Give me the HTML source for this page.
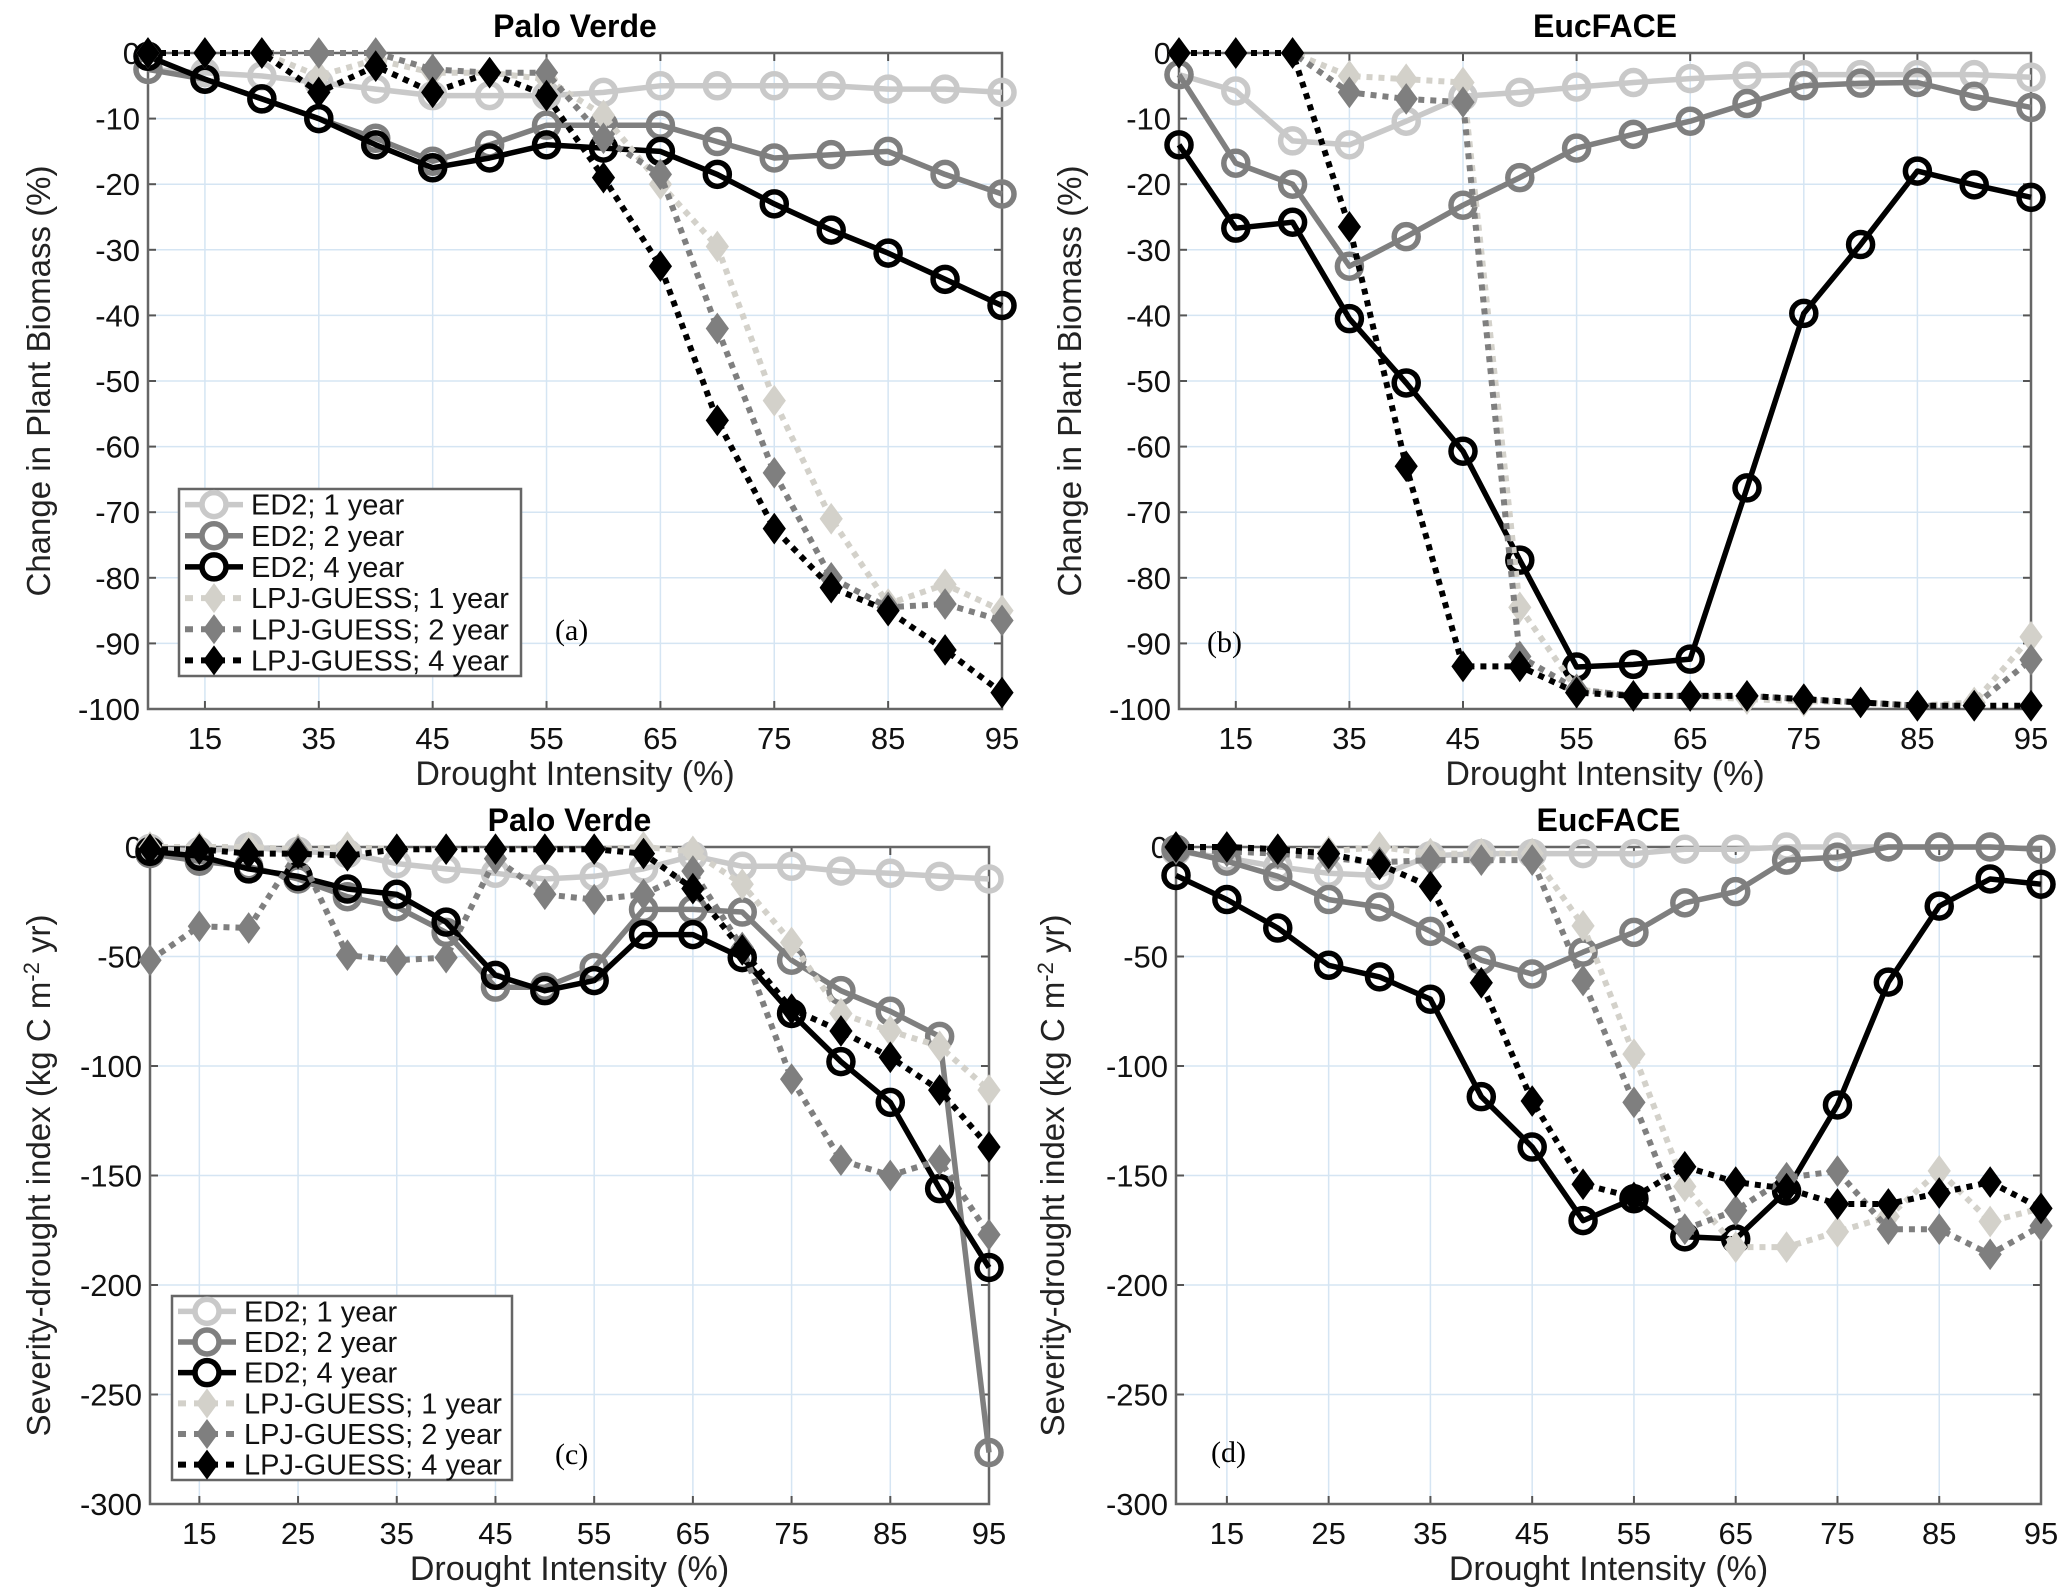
<!DOCTYPE html>
<html><head><meta charset="utf-8"><style>
html,body{margin:0;padding:0;background:#fff}
svg{display:block;font-family:"Liberation Sans",Arial,sans-serif}
</style></head><body>
<svg id="fig" width="2067" height="1592" viewBox="0 0 2067 1592" xmlns="http://www.w3.org/2000/svg"></svg>
<script>
// ---------- data ----------
const xTop = [10,15,20,35,40,45,50,55,60,65,70,75,80,85,90,95];
const xTopTicks = ["15","35","45","55","65","75","85","95"];
const xBot = [10,15,20,25,30,35,40,45,50,55,60,65,70,75,80,85,90,95];
const xBotTicks = ["15","25","35","45","55","65","75","85","95"];
const yTopTicks = [0,-10,-20,-30,-40,-50,-60,-70,-80,-90,-100];
const yBotTicks = [0,-50,-100,-150,-200,-250,-300];

const aED1 = [-2.5,-3,-3.5,-4.5,-5.5,-6.5,-6.5,-6.5,-6,-5,-5,-5,-5,-5.5,-5.5,-6];
const aED2 = [-2.5,-4,-7,-10,-13,-16.5,-14,-11,-11,-11,-13.5,-16,-15.5,-15,-18.5,-21.5];
const aED4 = [-0.5,-4,-7,-10,-14,-17.5,-16,-14,-14.5,-15,-18.5,-23,-27,-30.5,-34.5,-38.5];
const aLP1 = [0,0,0,-3.5,-1,-3,-3,-4,-9.5,-20,-29.5,-53,-71,-84,-81,-85];
const aLP2 = [0,0,0,0,0,-2.5,-3,-3,-13,-18.5,-42,-64,-80,-84.5,-84,-86.5];
const aLP4 = [0,0,0,-6,-2,-6,-3,-6.5,-19,-32.5,-56,-72.5,-81.5,-85,-91,-97.5];

const bED1 = [-3.3,-5.8,-13.4,-14,-10.4,-6.6,-6,-5.2,-4.5,-3.9,-3.5,-3.3,-3.3,-3.3,-3.3,-3.7];
const bED2 = [-3.3,-16.8,-20,-32.5,-28,-23.2,-19,-14.5,-12.4,-10.4,-7.7,-5,-4.6,-4.5,-6.6,-8.3];
const bED4 = [-14,-26.7,-25.8,-40.5,-50.3,-60.7,-77.3,-93.6,-93.2,-92.4,-66.3,-39.7,-29.2,-18,-20.1,-22];
const bLP1 = [0,0,0,-3.5,-4,-4.5,-84.5,-97,-98,-98,-98.5,-98.8,-99,-99.5,-99,-89];
const bLP2 = [0,0,0,-6,-7,-7.5,-92,-97,-98,-98,-98,-98.5,-99,-99.5,-99.5,-92.5];
const bLP4 = [0,0,0,-26.5,-63,-93.5,-93.5,-97.5,-98,-98,-98,-98.5,-99,-99.5,-99.5,-99.5];

const cED1 = [-0.7,-2,0,-2,-3,-7.6,-10,-12,-14.6,-13.4,-10,-4,-8.8,-8.8,-11,-12,-13.4,-14.6];
const cED2 = [-3,-6.5,-9,-14.6,-22.7,-27.4,-39,-64,-64,-55,-28.5,-28.5,-29.7,-51.7,-65.6,-75,-86.5,-276.5];
const cED4 = [-2,-4.2,-10,-13.4,-19.2,-21.6,-34.3,-58.6,-65.6,-61,-40,-40,-50.5,-76,-98,-116.6,-156,-192];
const cLP1 = [0,0,0,-1,0,-1,-1,-1,-1,-1,0,-2,-17,-43.6,-76,-84,-91,-111];
const cLP2 = [-51.7,-36.2,-37,-2,-49.4,-51.7,-50.5,-5.3,-21.6,-24,-21.6,-11,-45.9,-106,-143,-150,-143,-177];
const cLP4 = [-1,-1,-3,-3,-4,-1,-1,-1,-1,-1,-3,-19,-47,-74,-84,-96,-111,-137];

const dED1 = [-2,-5,-9,-12,-13,-4,-3,-3,-3,-3,-1,-1,0,0,0,0,0,-1];
const dED2 = [-1,-6.5,-13.4,-24,-27.4,-38.5,-51.7,-58,-48,-39,-25.5,-20.4,-6,-4.6,0,0,0,-1];
const dED4 = [-13,-24,-37,-54,-59.3,-69.5,-114,-137,-170.6,-160.6,-178,-179,-157,-117.8,-61.7,-27,-14.6,-17];
const dLP1 = [0,0,-1,-2,0,-3,-3,-3,-36,-94.6,-155,-182.7,-182.7,-175.7,-168.7,-147.9,-171,-165];
const dLP2 = [-1,-2,-3,-5,-7,-6,-6,-6,-61,-116.6,-174.5,-166,-151,-148,-174.5,-174.5,-186,-173];
const dLP4 = [0,0,-1,-3,-8,-18,-62,-116,-154,-160,-146,-153,-156,-163,-163,-158,-153,-165];

const seriesNames = ["ED2; 1 year","ED2; 2 year","ED2; 4 year","LPJ-GUESS; 1 year","LPJ-GUESS; 2 year","LPJ-GUESS; 4 year"];
const seriesColors = ["#c9c9c9","#7f7f7f","#000000","#d3d1ca","#7f7f7f","#000000"];

// ---------- drawing ----------
const NS="http://www.w3.org/2000/svg";
const svg=document.getElementById('fig');
function mk(tag,attrs,parent){const e=document.createElementNS(NS,tag);for(const k in attrs)e.setAttribute(k,attrs[k]);(parent||svg).appendChild(e);return e;}

function panel(cfg){
  const g=mk('g',{});
  
  
  const n=cfg.cats.length;
  const xs=i=>cfg.L+(cfg.R-cfg.L)*i/(n-1);
  const ys=v=>cfg.T+(cfg.B-cfg.T)*(v-cfg.ymax)/(cfg.ymin-cfg.ymax);
  cfg.yticks.forEach(v=>{
    const l=mk('line',{x1:cfg.L,x2:cfg.R,y1:ys(v),y2:ys(v),stroke:'#d5e5f3','stroke-width':1.5},g);
    
    mk('line',{x1:cfg.L,x2:cfg.L+8,y1:ys(v),y2:ys(v),stroke:'#555','stroke-width':2},g);
    mk('line',{x1:cfg.R,x2:cfg.R-8,y1:ys(v),y2:ys(v),stroke:'#555','stroke-width':2},g);
    const t=mk('text',{x:cfg.L-8,y:ys(v)+11,'text-anchor':'end','font-size':31,fill:'#111'},g);
    t.textContent=String(v);
    
  });
  cfg.xtickLabels.forEach((lab,k)=>{
    const i=2*k+1, x=xs(i);
    const l=mk('line',{x1:x,x2:x,y1:cfg.T,y2:cfg.B,stroke:'#d5e5f3','stroke-width':1.5},g);
    
    mk('line',{x1:x,x2:x,y1:cfg.B,y2:cfg.B-8,stroke:'#555','stroke-width':2},g);
    mk('line',{x1:x,x2:x,y1:cfg.T,y2:cfg.T+8,stroke:'#555','stroke-width':2},g);
    const t=mk('text',{x:x,y:cfg.B+40,'text-anchor':'middle','font-size':31,fill:'#111'},g);
    t.textContent=lab;
    
  });
  const box=mk('rect',{x:cfg.L,y:cfg.T,width:cfg.R-cfg.L,height:cfg.B-cfg.T,fill:'none',stroke:'#666','stroke-width':2.5},g);
  
  cfg.series.forEach((vals,si)=>{
    const col=seriesColors[si], lpj=si>=3;
    const pts=vals.map((v,i)=>xs(i).toFixed(1)+','+ys(v).toFixed(1)).join(' ');
    const pl=mk('polyline',{points:pts,fill:'none',stroke:col,'stroke-width':lpj?6:5.5,'stroke-dasharray':lpj?'6 6':'none','stroke-linejoin':'round'},g);
    
    
    vals.forEach((v,i)=>{
      const x=xs(i),y=ys(v);let m;
      if(lpj){m=mk('polygon',{points:`${x},${y-15} ${x+11},${y} ${x},${y+15} ${x-11},${y}`,fill:col,stroke:col,'stroke-width':1},g);}
      else{m=mk('circle',{cx:x,cy:y,r:12,fill:'none',stroke:col,'stroke-width':5.5},g);}
      
      
    });
  });
  const tt=mk('text',{x:(cfg.L+cfg.R)/2,y:cfg.T-16,'text-anchor':'middle','font-size':32,'font-weight':'bold',fill:'#000'},g);
  tt.textContent=cfg.title;
  const xl=mk('text',{x:(cfg.L+cfg.R)/2,y:cfg.B+76,'text-anchor':'middle','font-size':34,fill:'#222'},g);
  xl.textContent='Drought Intensity (%)';
  const yl=mk('text',{x:0,y:0,'text-anchor':'middle','font-size':33,fill:'#222',transform:`translate(${cfg.ylx},${(cfg.T+cfg.B)/2}) rotate(-90)`},g);
  if(cfg.unit){yl.textContent='Severity-drought index (kg C m';const s=mk('tspan',{dy:-11,'font-size':22},yl);s.textContent='-2';const s2=mk('tspan',{dy:11},yl);s2.textContent=' yr)';}
  else yl.textContent='Change in Plant Biomass (%)';
  
  const pl=mk('text',{x:cfg.plx,y:cfg.ply,'font-size':30,'font-family':'"Liberation Serif",serif',fill:'#000'},g);
  pl.textContent=cfg.panelLabel;
  if(cfg.legend){
    const lg=cfg.legend;
    const lgg=mk('g',{},g);
    
    mk('rect',{x:lg.x,y:lg.y,width:lg.w,height:lg.h,fill:'#fff',stroke:'#666','stroke-width':2.5},lgg);
    seriesNames.forEach((nm,si)=>{
      const cy=lg.y+lg.h*(si+0.5)/6, col=seriesColors[si], lpj=si>=3;
      const e=mk('g',{},lgg);
      
      mk('line',{x1:lg.x+6,x2:lg.x+64,y1:cy,y2:cy,stroke:col,'stroke-width':lpj?6:5.5,'stroke-dasharray':lpj?'8 8':'none'},e);
      const mx=lg.x+35;
      if(lpj)mk('polygon',{points:`${mx},${cy-15} ${mx+11},${cy} ${mx},${cy+15} ${mx-11},${cy}`,fill:col},e);
      else mk('circle',{cx:mx,cy:cy,r:12,fill:'#fff',stroke:col,'stroke-width':5.5},e);
      const t=mk('text',{x:lg.x+72,y:cy+10,'font-size':29,fill:'#111'},e);t.textContent=nm;
    });
  }
}

panel({name:'panel-a-palo-verde-biomass',title:'Palo Verde',L:148,R:1002,T:53,B:709,ymax:0,ymin:-100,cats:xTop,xtickLabels:xTopTicks,yticks:yTopTicks,
  series:[aED1,aED2,aED4,aLP1,aLP2,aLP4],ylx:50,plx:555,ply:640,panelLabel:'(a)',unit:false,
  legend:{x:179,y:489,w:342,h:187}});
panel({name:'panel-b-eucface-biomass',title:'EucFACE',L:1179,R:2031,T:53,B:709,ymax:0,ymin:-100,cats:xTop,xtickLabels:xTopTicks,yticks:yTopTicks,
  series:[bED1,bED2,bED4,bLP1,bLP2,bLP4],ylx:1081,plx:1207,ply:652,panelLabel:'(b)',unit:false});
panel({name:'panel-c-palo-verde-severity',title:'Palo Verde',L:150,R:989,T:847,B:1504,ymax:0,ymin:-300,cats:xBot,xtickLabels:xBotTicks,yticks:yBotTicks,
  series:[cED1,cED2,cED4,cLP1,cLP2,cLP4],ylx:50,plx:555,ply:1464,panelLabel:'(c)',unit:true,
  legend:{x:172,y:1296,w:340,h:184}});
panel({name:'panel-d-eucface-severity',title:'EucFACE',L:1176,R:2041,T:847,B:1504,ymax:0,ymin:-300,cats:xBot,xtickLabels:xBotTicks,yticks:yBotTicks,
  series:[dED1,dED2,dED4,dLP1,dLP2,dLP4],ylx:1064,plx:1211,ply:1462,panelLabel:'(d)',unit:true});
</script>
</body></html>
